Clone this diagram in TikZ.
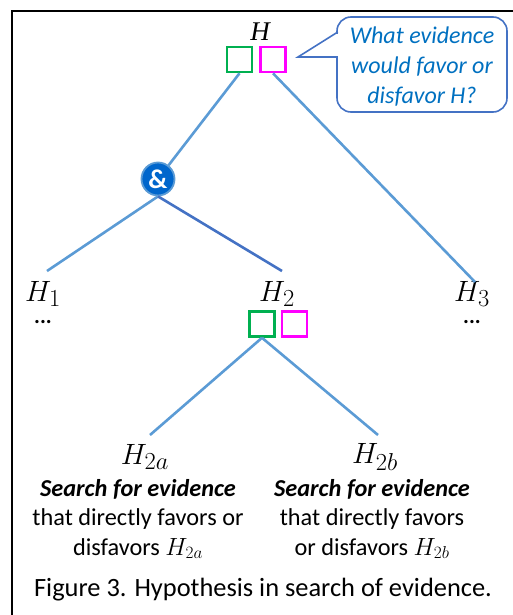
\documentclass[tikz,border=0pt]{standalone}
\usepackage{fontspec}
\setmainfont{Carlito}
\newfontfamily\serifit{Liberation Serif}
\usetikzlibrary{calc}
\definecolor{branch}{RGB}{91,155,213}
\definecolor{branchdark}{RGB}{68,114,196}
\definecolor{boxgreen}{RGB}{0,176,80}
\definecolor{boxmag}{RGB}{255,0,255}
\definecolor{calltext}{RGB}{0,112,192}
\definecolor{andfill}{RGB}{0,102,204}
\newcommand{\hyplabel}[1]{\scalebox{1.18}{$#1$}}
\tikzset{
  edge/.style={draw=branch, line width=2.6pt},
  edgedark/.style={draw=branchdark, line width=2.6pt},
  gbox/.style={draw=boxgreen, line width=2.6pt, minimum size=25pt, inner sep=0pt},
  mbox/.style={draw=boxmag, line width=2.6pt, minimum size=25pt, inner sep=0pt},
  hyp/.style={inner sep=0pt, font=\fontsize{24.88}{26}\selectfont},
  dots/.style={inner sep=0pt, text height=4pt, text depth=0pt, font=\bfseries\fontsize{22}{22}\selectfont},
  note/.style={align=center, font=\fontsize{24.3}{29.5}\selectfont, inner sep=0pt},
}
\begin{document}
\begin{tikzpicture}[x=1pt,y=-1pt]
\useasboundingbox (0,0) rectangle (513,615);
% frame
\draw[line width=2pt] (12,615) -- (12,11) -- (513,11);

% root hypothesis with its two evidence boxes
\node[inner sep=0pt, font=\serifit\itshape\fontsize{27}{28}\selectfont] (H) at (260,32) {H};
\node[gbox] (Hg) at (239.5,59.5) {};
\node[mbox] (Hm) at (273,59.5) {};

% speech bubble
\draw[draw=branchdark, line width=1.6pt, rounded corners=14pt]
  (337,57) -- (337,112) -- (507,112) -- (507,17) -- (337,17) -- (337,34);
\draw[draw=branchdark, line width=1.6pt, line join=miter]
  (337.8,32) -- (298,57) -- (337.8,57);
\node[align=center, inner sep=0pt, text=calltext, font=\itshape\fontsize{24}{30}\selectfont] (Q) at (422,67)
  {What evidence\\would favor or\\disfavor H?};

% conjunction node
\node[circle, fill=andfill, draw=branch, line width=1.8pt, minimum size=33pt, inner sep=0pt,
      text=white, font=\bfseries\fontsize{27}{27}\selectfont] (and) at (158,179) {\&};

% level-1 hypotheses
\node[hyp] (H1) at (43,294) {\hyplabel{H_1}};
\node[hyp] (H2) at (277,294) {\hyplabel{H_2}};
\node[hyp] (H3) at (472,294) {\hyplabel{H_3}};
\node[dots] (d1) at (43,321) {...};
\node[dots] (d3) at (472,321) {...};

\coordinate (H1t) at (47,271);
\coordinate (H2t) at (282,271);
\coordinate (H3t) at (475,282);

\draw[edge] (Hg.south) -- (and);
\draw[edge] (Hm.south) -- (H3t);
\draw[edge] (and.south) -- (H1t);
\draw[edgedark] (and.south) -- (H2t);

% evidence boxes of H2
\node[gbox] (H2g) at (262,324) {};
\node[mbox] (H2m) at (294.5,324) {};

% level-2 hypotheses
\node[hyp] (H2a) at (145,457) {\hyplabel{H_{2a}}};
\node[hyp] (H2b) at (375,457) {\hyplabel{H_{2b}}};
\coordinate (H2at) at (150,435);
\coordinate (H2bt) at (378,435);
\draw[edge] (H2g.south) -- (H2at);
\draw[edge] (H2g.south) -- (H2bt);

\node[note] (Na) at (138,519)
  {\textbf{\textit{Search for evidence}}\\that directly favors or\\disfavors $H_{2a}$};
\node[note] (Nb) at (372,519)
  {\textbf{\textit{Search for evidence}}\\that directly favors\\or disfavors $H_{2b}$};

% caption
\node[inner sep=0pt, font=\fontsize{26.4}{28}\selectfont] (cap) at (263,590)
  {Figure 3. Hypothesis in search of evidence.};
\end{tikzpicture}
\end{document}
